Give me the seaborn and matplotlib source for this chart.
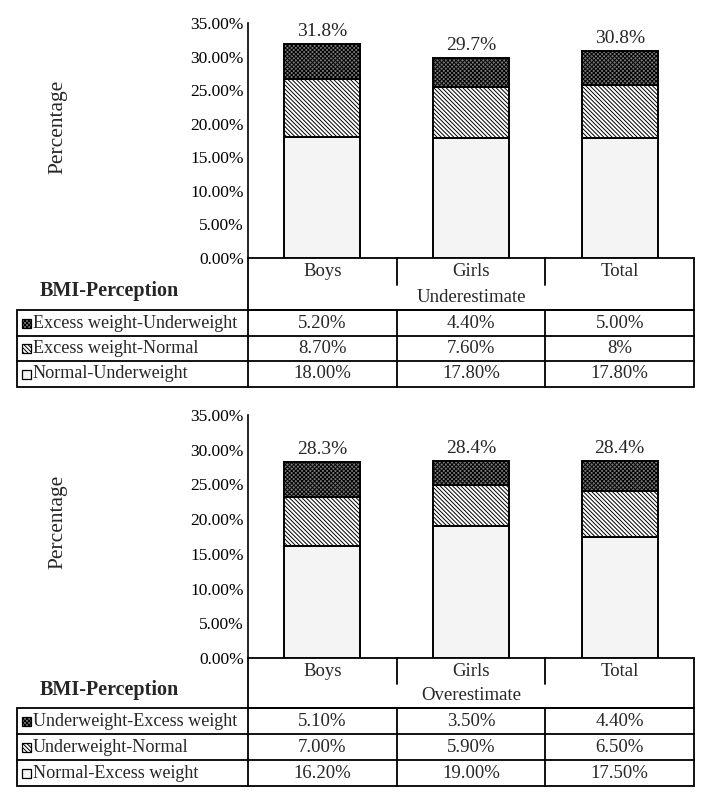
import numpy as np
import matplotlib
matplotlib.use("Agg")
import matplotlib.pyplot as plt
import seaborn as sns
from matplotlib.patches import Rectangle
from matplotlib.ticker import FuncFormatter

# ---- data ----
groups = ["Boys", "Girls", "Total"]

under_labels = ["Excess weight-Underweight", "Excess weight-Normal", "Normal-Underweight"]
under_top = [5.2, 4.4, 5.0]
under_mid = [8.7, 7.6, 8.0]
under_base = [18.0, 17.8, 17.8]
under_totals = [31.8, 29.7, 30.8]
under_cells = [["5.20%", "4.40%", "5.00%"],
               ["8.70%", "7.60%", "8%"],
               ["18.00%", "17.80%", "17.80%"]]

over_labels = ["Underweight-Excess weight", "Underweight-Normal", "Normal-Excess weight"]
over_top = [5.1, 3.5, 4.4]
over_mid = [7.0, 5.9, 6.5]
over_base = [16.2, 19.0, 17.5]
over_totals = [28.3, 28.4, 28.4]
over_cells = [["5.10%", "3.50%", "4.40%"],
              ["7.00%", "5.90%", "6.50%"],
              ["16.20%", "19.00%", "17.50%"]]

yticks = [0, 5, 10, 15, 20, 25, 30, 35]

# ---- style ----
sns.set_theme(style="white")
plt.rcParams["font.family"] = ["Liberation Serif", "DejaVu Serif"]
plt.rcParams["hatch.linewidth"] = 0.7

# base, mid, top segment styles
styles = [
    dict(color="#f4f4f4", hatch=None),
    dict(color="white", hatch="\\\\\\\\\\\\\\\\"),
    dict(color="#7a7a7a", hatch="xxxxxxxx"),
]

W, H = 710, 801
L, R, TL = 248, 694, 17
fig = plt.figure(figsize=(W / 100, H / 100), dpi=100)
tax = fig.add_axes([0, 0, 1, 1])
tax.set_xlim(0, W)
tax.set_ylim(H, 0)
tax.axis("off")


def panel(base, mid, top, totals, cells, labels, title, y0, y35, rows):
    ax = fig.add_axes([L / W, 1 - y0 / H, (R - L) / W, (y0 - y35) / H])
    bottoms = np.zeros(len(groups))
    for vals, st in zip([base, mid, top], styles):
        sns.barplot(x=groups, y=vals, bottom=bottoms, width=0.51,
                    color=st["color"], hatch=st["hatch"], edgecolor="black",
                    linewidth=1.4, saturation=1, errorbar=None, ax=ax)
        bottoms = bottoms + np.array(vals)
    for i, t in enumerate(totals):
        ax.annotate(f"{t:.1f}%", (i, bottoms[i]), xytext=(0, 9),
                    textcoords="offset points", ha="center", va="center",
                    fontsize=14)
    ax.set_xlim(-0.5, 2.5)
    ax.set_ylim(0, 35)
    ax.set_yticks(yticks)
    ax.yaxis.set_major_formatter(FuncFormatter(lambda v, p: f"{v:.2f}%"))
    ax.tick_params(axis="y", left=False, length=0, pad=3, labelsize=12.5, colors="black")
    ax.tick_params(axis="x", bottom=False, labelbottom=False)
    ax.set_xlabel("")
    ax.set_ylabel("Percentage", fontsize=15.5)
    ax.yaxis.set_label_coords(-0.405, 0.56)
    sns.despine(ax=ax, bottom=True)
    ax.spines["left"].set_color("black")
    ax.spines["left"].set_linewidth(1.2)
    ax.set_facecolor("none")

    # table
    lw = 1.3
    slot = (R - L) / 3
    hdr_mid = (y0 + rows[0]) / 2 + 1
    tax.add_patch(Rectangle((L, y0), R - L, rows[0] - y0, fill=False, lw=lw, ec="black"))
    for k in (1, 2):
        tax.plot([L + k * slot] * 2, [y0, hdr_mid], color="black", lw=lw)
    for k, g in enumerate(groups):
        tax.text(L + (k + 0.5) * slot, (y0 + hdr_mid) / 2, g, ha="center", va="center", fontsize=13.5)
    tax.text((L + R) / 2, (hdr_mid + rows[0]) / 2, title, ha="center", va="center", fontsize=13.5)
    tax.text(40, (y0 + rows[0]) / 2 + 7, "BMI-Perception", ha="left", va="center",
             fontsize=14.5, fontweight="bold")
    tax.add_patch(Rectangle((TL, rows[0]), R - TL, rows[-1] - rows[0], fill=False, lw=lw, ec="black"))
    for yy in rows[1:-1]:
        tax.plot([TL, R], [yy, yy], color="black", lw=lw)
    for xx in (L, L + slot, L + 2 * slot):
        tax.plot([xx, xx], [rows[0], rows[-1]], color="black", lw=lw)
    seg_styles = [styles[2], styles[1], styles[0]]
    for r in range(3):
        yc = (rows[r] + rows[r + 1]) / 2
        st = seg_styles[r]
        tax.add_patch(Rectangle((22, yc - 4.5), 9, 9, facecolor=st["color"], hatch=st["hatch"],
                                edgecolor="black", lw=0.9))
        tax.text(33, yc, labels[r], ha="left", va="center", fontsize=13.1)
        for k in range(3):
            tax.text(L + (k + 0.5) * slot, yc, cells[r][k], ha="center", va="center", fontsize=13.5)


panel(under_base, under_mid, under_top, under_totals, under_cells, under_labels,
      "Underestimate", 258, 23, [310, 336, 361, 387])
panel(over_base, over_mid, over_top, over_totals, over_cells, over_labels,
      "Overestimate", 658, 415, [708, 734, 760, 786])

fig.savefig("out.png", dpi=100, facecolor="white")
